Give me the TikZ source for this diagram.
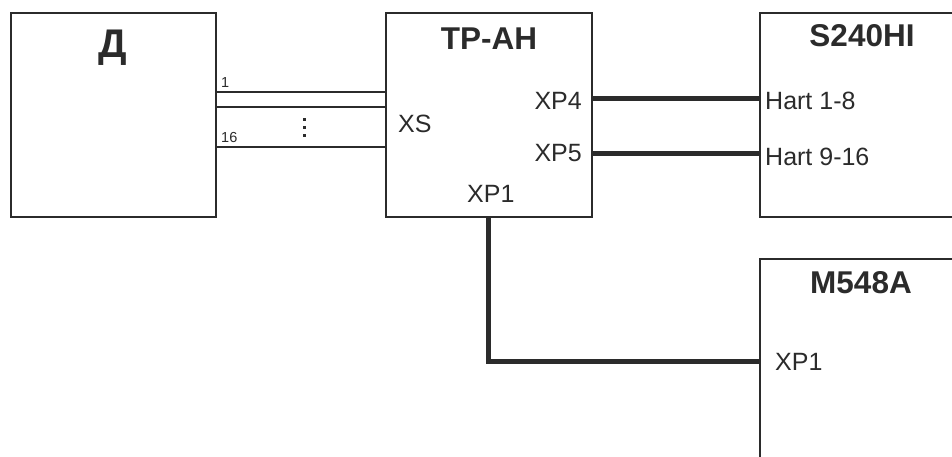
\documentclass[tikz,border=0pt]{standalone}
\usepackage{fontspec}
\setmainfont{Liberation Sans}
\definecolor{ink}{HTML}{2B2B2B}
\tikzset{
  box/.style={draw=ink, line width=2pt, rectangle, inner sep=0pt, anchor=north west},
  ttl/.style={text=ink, font=\bfseries\fontsize{31.5}{36}\selectfont, inner sep=0pt, anchor=base},
  lbl/.style={text=ink, font=\fontsize{25}{30}\selectfont, inner sep=0pt},
  small/.style={text=ink, font=\fontsize{14.5}{17}\selectfont, inner sep=0pt, anchor=base west},
  wire/.style={draw=ink, line width=1.4pt},
  bus/.style={draw=ink, line width=5pt}
}
\begin{document}
\begin{tikzpicture}[x=1pt,y=-1pt]
\useasboundingbox (0,0) rectangle (952,457);
\clip (0,0) rectangle (952,457);
% boxes
\node[box, minimum width=205pt, minimum height=204pt] (D) at (10,12) {};
\node[box, minimum width=206pt, minimum height=204pt] (TP) at (385,12) {};
\node[box, minimum width=220pt, minimum height=204pt] (S) at (759,12) {};
\node[box, minimum width=220pt, minimum height=220pt] (M) at (759,258) {};
% titles
\node[ttl, font=\bfseries\fontsize{40}{44}\selectfont] (Dt) at (113,58) {Д};
\node[ttl] (TPt) at (489,50) {TP-AH};
\node[ttl] (St) at (862,47) {S240HI};
\node[ttl] (Mt) at (861,293) {M548A};
% port labels
\node[lbl, anchor=base west] (XS) at (398,133) {XS};
\node[lbl, anchor=base east] (XP4) at (582,110) {XP4};
\node[lbl, anchor=base east] (XP5) at (582,162) {XP5};
\node[lbl, anchor=base west] (XP1) at (467,202) {XP1};
\node[lbl, anchor=base west] (H1) at (765,110) {Hart 1-8};
\node[lbl, anchor=base west] (H2) at (765,165) {Hart 9-16};
\node[lbl, anchor=base west] (MXP1) at (775,370) {XP1};
% wire numbers
\node[small] (n1) at (221,88) {1};
\node[small] (n16) at (221,143) {16};
% thin wires
\draw[wire] (D.east |- 0,92) -- (TP.west |- 0,92);
\draw[wire] (D.east |- 0,107) -- (TP.west |- 0,107);
\draw[wire] (D.east |- 0,147) -- (TP.west |- 0,147);
% vertical dots
\foreach \yy in {120,128,136} \fill[ink] (302.5,\yy-1.5) rectangle ++(3,3);
% buses
\draw[bus] (TP.east |- 0,99) -- (S.west |- 0,99);
\draw[bus] (TP.east |- 0,154) -- (S.west |- 0,154);
\coordinate (c1) at (488,216);
\draw[bus] (TP.south -| c1) -- (488,361) -- (M.west |- 0,361);
\end{tikzpicture}
\end{document}
